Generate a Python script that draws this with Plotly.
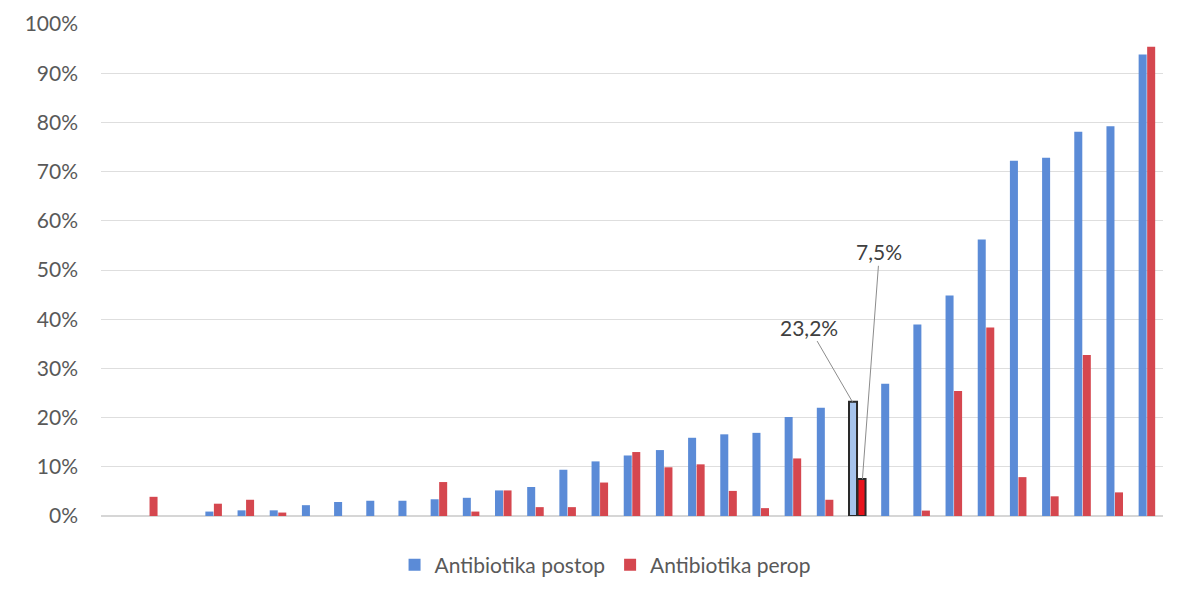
import plotly.graph_objects as go

categories = [str(i + 1) for i in range(33)]

postop = [0.0, 0.0, 0.0, 0.9, 1.15, 1.15, 2.2, 2.85, 3.1, 3.1, 3.4, 3.7, 5.2, 5.9, 9.4,
          11.1, 12.3, 13.4, 15.9, 16.6, 16.9, 20.1, 22.0, 23.2, 26.9, 38.9, 44.8, 56.2,
          72.2, 72.8, 78.1, 79.2, 93.8]
perop = [0.0, 3.9, 0.0, 2.5, 3.3, 0.7, 0.0, 0.0, 0.0, 0.0, 6.9, 0.9, 5.2, 1.8, 1.8,
         6.8, 13.0, 9.9, 10.5, 5.1, 1.6, 11.7, 3.3, 7.5, 0.0, 1.1, 25.4, 38.3, 7.9,
         4.0, 32.7, 4.8, 95.4]

highlight_index = 23
label_postop = "23,2%"
label_perop = "7,5%"

blue = "#5b8bd7"
red = "#d5474f"
blue_hl = "#a7c4ec"
red_hl = "#e8141c"

n = len(categories)
blue_colors = [blue_hl if i == highlight_index else blue for i in range(n)]
red_colors = [red_hl if i == highlight_index else red for i in range(n)]
line_w = [2 if i == highlight_index else 0 for i in range(n)]
line_c = ["#2a2a2a" if i == highlight_index else "rgba(0,0,0,0)" for i in range(n)]

FONT = "Lato, 'Open Sans', sans-serif"

fig = go.Figure()
fig.add_trace(go.Bar(
    x=categories, y=[v / 100 for v in postop], name="Antibiotika postop",
    marker=dict(color=blue_colors, line=dict(color=line_c, width=line_w)),
))
fig.add_trace(go.Bar(
    x=categories, y=[v / 100 for v in perop], name="Antibiotika perop",
    marker=dict(color=red_colors, line=dict(color=line_c, width=line_w)),
))

fig.add_annotation(
    x=highlight_index - 0.15, y=postop[highlight_index] / 100,
    ax=highlight_index - 1.5, ay=0.384, axref="x", ayref="y",
    text=label_postop, showarrow=True, arrowhead=0, arrowwidth=1,
    arrowcolor="#8c8c8c", font=dict(family=FONT, size=21, color="#404040"),
)
fig.add_annotation(
    x=highlight_index + 0.16, y=perop[highlight_index] / 100,
    ax=highlight_index + 0.69, ay=0.537, axref="x", ayref="y",
    text=label_perop, showarrow=True, arrowhead=0, arrowwidth=1,
    arrowcolor="#8c8c8c", font=dict(family=FONT, size=21, color="#404040"),
)

fig.update_layout(
    width=1176, height=583,
    margin=dict(l=93, r=21, t=16, b=75, autoexpand=False),
    paper_bgcolor="white", plot_bgcolor="white",
    barmode="group", bargap=0.47, bargroupgap=0.06,
    font=dict(family=FONT, size=21, color="#595959"),
    showlegend=True,
    legend=dict(orientation="h", xref="container", yref="container",
                x=0.5077, xanchor="center", y=0.0446, yanchor="middle",
                font=dict(family=FONT, size=21, color="#595959")),
    xaxis=dict(showticklabels=False, showgrid=False, zeroline=False, showline=False,
               ticks=""),
    yaxis=dict(range=[0, 1.0], dtick=0.1, tickformat=".0%", showgrid=True,
               gridcolor="#dedede", gridwidth=1, zeroline=True, zerolinecolor="#d6d6d6",
               showline=False, ticks="", ticklen=0, ticklabelstandoff=22,
               automargin=False, tickfont=dict(size=21, color="#595959")),
)

fig.write_html("out.html")
